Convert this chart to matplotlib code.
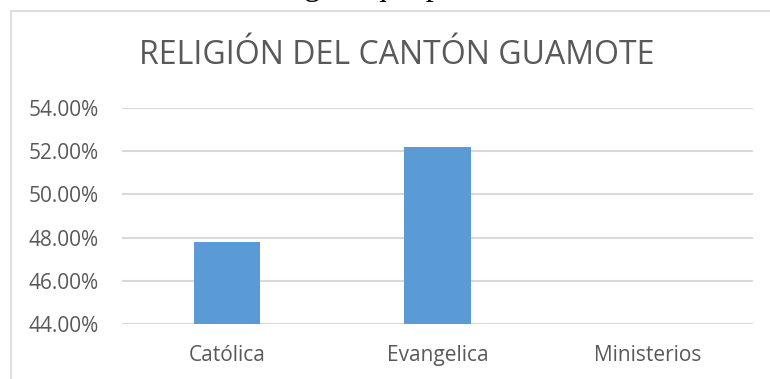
import matplotlib.pyplot as plt
from matplotlib.patches import Rectangle
from matplotlib.ticker import FuncFormatter

# --- Data ---
categorias = ["Católica", "Evangelica", "Ministerios"]
porcentajes = [47.80, 52.20, 0.00]
y_ticks = [44, 46, 48, 50, 52, 54]

W, H = 770, 379
fig = plt.figure(figsize=(W / 100, H / 100), dpi=100)
renderer = fig.canvas.get_renderer()

# document caption line above the chart (only its lower edge shows)
caption_pre = "3: Gráfico cantonal: Reli"
caption = caption_pre + "gión que predomina en el cantón Guamote"
cap_font = dict(family="Liberation Serif", fontsize=23.5, color="black")
probe = fig.text(0, 0, caption_pre, **cap_font)
pre_w = probe.get_window_extent(renderer).width
probe.remove()
fig.text((312 - pre_w - 8) / W, 1 + 5 / H, caption, ha="left", va="baseline", **cap_font)

# chart area border
fig.patches.append(Rectangle((10.5 / W, -0.1), 1.2, 1 - 10.5 / H + 0.1,
                             transform=fig.transFigure, fill=False,
                             edgecolor="#d9d9d9", linewidth=1.2))

ax = fig.add_axes([122 / W, 1 - 324 / H, (753 - 122) / W, (324 - 108) / H])
ax.bar(range(len(categorias)), porcentajes, width=0.315, color="#5b9bd5", zorder=3)

ax.set_xlim(-0.5, len(categorias) - 0.5)
ax.set_ylim(44, 54)
ax.set_yticks(y_ticks)
ax.yaxis.set_major_formatter(FuncFormatter(lambda v, p: f"{v:.2f}%"))
ax.set_xticks(range(len(categorias)))
ax.set_xticklabels(categorias)
for lbl in ax.get_xticklabels() + ax.get_yticklabels():
    lbl.set_family("Open Sans")
    lbl.set_fontsize(15)
    lbl.set_color("#595959")

ax.grid(axis="y", color="#d9d9d9", linewidth=1.5, zorder=0)
ax.tick_params(length=0)
ax.tick_params(axis="y", pad=16.5)
ax.tick_params(axis="x", pad=15)
for s in ax.spines.values():
    s.set_visible(False)

fig.text(397 / W, 1 - 56 / H, "RELIGIÓN DEL CANTÓN GUAMOTE", family="Open Sans",
         fontsize=23, color="#595959", ha="center", va="center")

fig.savefig("out.png", dpi=100)
